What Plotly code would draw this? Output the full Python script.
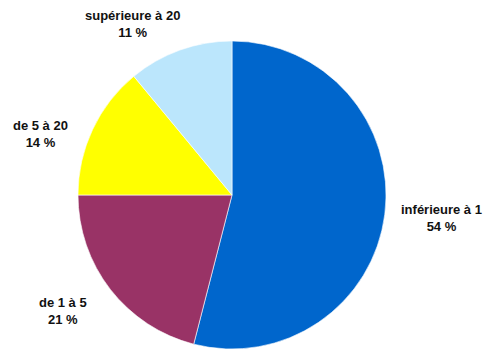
import plotly.graph_objects as go

# Share of establishments by size class
categories = ["inférieure à 1", "de 1 à 5", "de 5 à 20", "supérieure à 20"]
shares = [54, 21, 14, 11]
colors = ["#0066CC", "#993366", "#FFFF00", "#BBE6FC"]

# Label centre points (paper coordinates) for each slice
label_x = [0.896, 0.127, 0.083, 0.269]
label_y = [0.376, 0.109, 0.616, 0.931]

W, H = 493, 349

fig = go.Figure(
    go.Pie(
        labels=categories,
        values=shares,
        sort=False,
        direction="clockwise",
        rotation=0,
        textinfo="none",
        hoverinfo="label+percent",
        marker=dict(colors=colors, line=dict(color="white", width=0.6)),
        domain=dict(x=[78 / W, 386 / W], y=[0, 308 / H]),
        showlegend=False,
    )
)

for cat, val, x, y in zip(categories, shares, label_x, label_y):
    fig.add_annotation(
        x=x, y=y, xref="paper", yref="paper",
        xanchor="center", yanchor="middle",
        text=f"<b>{cat}</b><br><b>{val} %</b>",
        showarrow=False, align="center",
        font=dict(family="Liberation Sans, Arial, sans-serif", size=13, color="#111111"),
    )

fig.update_layout(
    width=W, height=H,
    margin=dict(l=0, r=0, t=0, b=0),
    paper_bgcolor="white",
    plot_bgcolor="white",
)

fig.write_html("out.html")
